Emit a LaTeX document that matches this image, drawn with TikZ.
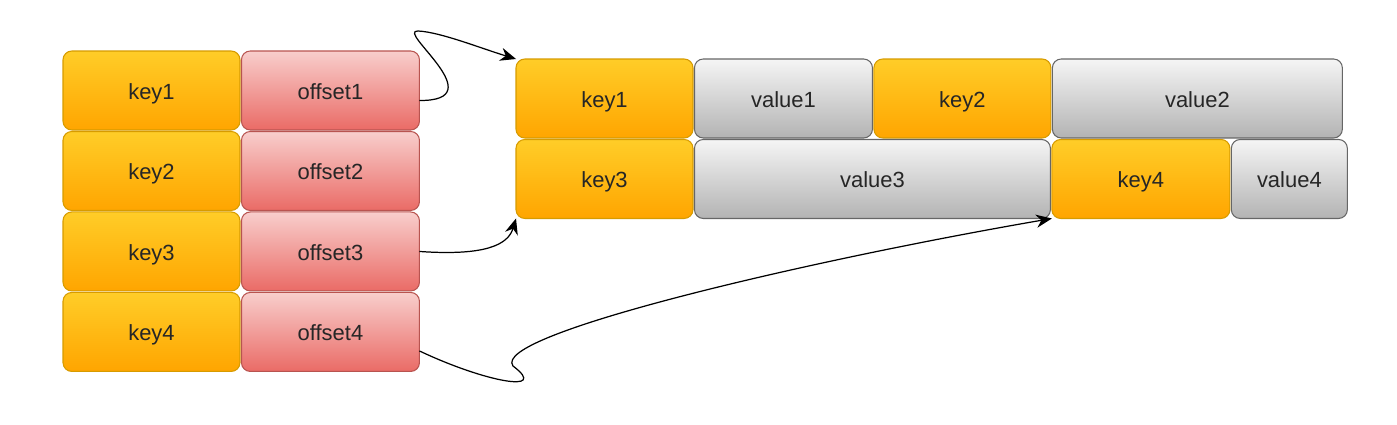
\documentclass[tikz,border=0pt]{standalone}
\usepackage{fontspec}
\setmainfont{Liberation Sans}
\usetikzlibrary{positioning, arrows.meta}
\definecolor{keytop}{HTML}{FFCD28}
\definecolor{keybot}{HTML}{FFA500}
\definecolor{keyline}{HTML}{D79B00}
\definecolor{offtop}{HTML}{F8CECC}
\definecolor{offbot}{HTML}{EA6B66}
\definecolor{offline}{HTML}{B85450}
\definecolor{valtop}{HTML}{F5F5F5}
\definecolor{valbot}{HTML}{B3B3B3}
\definecolor{valline}{HTML}{666666}
\tikzset{
cell/.style={
  draw,
  rectangle,
  rounded corners=5pt,
  minimum height=1.58cm,
  inner sep=0pt, outer sep=0pt,
  text height=10pt, text depth=0pt,
  line width=0.6pt,
  font=\fontsize{12.5}{15}\selectfont,
  text=black!85
  },
keycell/.style={cell, minimum width=3.54cm, top color=keytop, bottom color=keybot, draw=keyline},
offcell/.style={cell, minimum width=3.56cm, top color=offtop, bottom color=offbot, draw=offline},
valcell/.style={cell, top color=valtop, bottom color=valbot, draw=valline},
line/.style={-{Stealth[length=9pt,width=7.5pt]}, line width=0.7pt}
}
\begin{document}
\begin{tikzpicture}[x=0.02cm, y=-0.02cm, node distance=0.03cm]
\useasboundingbox (0,0) rectangle (1397,425);
% index: key -> offset
\node[keycell] (lk1) at (151.5,90.5) {key1};
\node[offcell, right=of lk1] (lo1) {offset1};
\node[keycell, below=of lk1] (lk2) {key2};
\node[offcell, right=of lk2] (lo2) {offset2};
\node[keycell, below=of lk2] (lk3) {key3};
\node[offcell, right=of lk3] (lo3) {offset3};
\node[keycell, below=of lk3] (lk4) {key4};
\node[offcell, right=of lk4] (lo4) {offset4};
% data: key + value
\node[keycell] (rk1) at (604.5,98.5) {key1};
\node[valcell, minimum width=3.56cm, right=of rk1] (rv1) {value1};
\node[keycell, right=of rv1] (rk2) {key2};
\node[valcell, minimum width=5.8cm, right=of rk2] (rv2) {value2};
\node[keycell, below=of rk1] (rk3) {key3};
\node[valcell, minimum width=7.12cm, right=of rk3] (rv3) {value3};
\node[keycell, minimum width=3.56cm, right=of rv3] (rk4) {key4};
\node[valcell, minimum width=2.32cm, right=of rk4] (rv4) {value4};
% pointers
\draw[line] ([yshift=-0.2cm]lo1.east) .. controls (495,101) and (395,30) .. (418,31)
  .. controls (440,32) and (480,48) .. (rk1.north west);
\draw[line] (lo3.east) .. controls (485,256) and (508,245) .. (rk3.south west);
\draw[line] ([yshift=-0.38cm]lo4.east) .. controls (485,382) and (550,394) .. (513,366)
  .. controls (490,335) and (800,262) .. (rk4.south west);
\end{tikzpicture}
\end{document}
